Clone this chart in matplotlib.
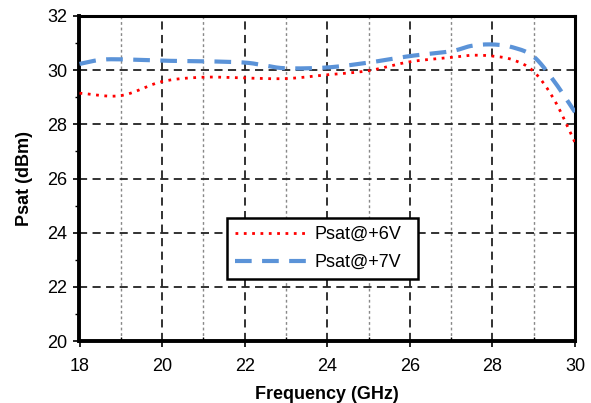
import matplotlib
matplotlib.use("Agg")
import matplotlib.pyplot as plt
import numpy as np

plt.rcParams['font.family'] = ['Liberation Sans', 'DejaVu Sans']

freq_6v = [18, 19, 20, 21, 22, 23, 24, 25, 26, 27, 27.5, 28, 28.5, 29, 29.5, 30]
psat_6v = [29.15, 29.06, 29.58, 29.74, 29.71, 29.69, 29.83, 29.98, 30.31, 30.47, 30.55, 30.52, 30.38, 29.95, 28.9, 27.33]
freq_7v = [18, 18.5, 19, 20, 21, 22, 22.5, 23, 24, 25, 26, 27, 27.5, 28, 28.5, 29, 29.5, 30]
psat_7v = [30.23, 30.38, 30.40, 30.35, 30.33, 30.28, 30.17, 30.07, 30.10, 30.28, 30.52, 30.70, 30.90, 30.95, 30.84, 30.50, 29.58, 28.45]

label_6v = "Psat@+6V"
label_7v = "Psat@+7V"
x_ticks = [18, 20, 22, 24, 26, 28, 30]
y_ticks = [20, 22, 24, 26, 28, 30, 32]

fig = plt.figure(figsize=(5.91, 4.03), dpi=100)
ax = fig.add_axes([79.5/591, (403-341)/403, (575-79.5)/591, (341-16)/403])

def smooth(xs, ys):
    xs = np.asarray(xs, float); ys = np.asarray(ys, float)
    out_x, out_y = [], []
    P = np.column_stack([xs, ys])
    P = np.vstack([P[0] - (P[1]-P[0]), P, P[-1] + (P[-1]-P[-2])])
    for i in range(1, len(P)-2):
        p0, p1, p2, p3 = P[i-1], P[i], P[i+1], P[i+2]
        t = np.linspace(0, 1, 20, endpoint=False)[:, None]
        pts = 0.5*((2*p1) + (-p0+p2)*t + (2*p0-5*p1+4*p2-p3)*t**2 + (-p0+3*p1-3*p2+p3)*t**3)
        out_x.extend(pts[:, 0]); out_y.extend(pts[:, 1])
    out_x.append(xs[-1]); out_y.append(ys[-1])
    return np.array(out_x), np.array(out_y)

# grid
for xv in np.arange(19, 30, 2):
    ax.axvline(xv, color='#888888', lw=1.0, ls=(0, (2, 2)), zorder=1)
for xv in np.arange(20, 30, 2):
    ax.axvline(xv, color='#222222', lw=1.3, ls=(0, (4.5, 3)), zorder=1)
for yv in np.arange(22, 32, 2):
    ax.axhline(yv, color='#222222', lw=1.3, ls=(0, (4.5, 3)), zorder=1)

sx, sy = smooth(freq_6v, psat_6v)
ax.plot(sx, sy, color='#FF0000', lw=2.0, ls=(0, (1, 2)), label=label_6v, zorder=3)
sx, sy = smooth(freq_7v, psat_7v)
ax.plot(sx, sy, color='#5B93D8', lw=3.0, ls=(0, (4, 2.5)), label=label_7v, zorder=3)

ax.set_xlim(18, 30)
ax.set_ylim(20, 32)
ax.set_xticks(x_ticks)
ax.set_yticks(y_ticks)
ax.set_xticks(np.arange(19, 30, 2), minor=True)
ax.set_yticks(np.arange(21, 32, 2), minor=True)
ax.tick_params(axis='both', which='major', direction='out', length=4, width=1.2, labelsize=13, colors='black')
ax.tick_params(axis='x', which='minor', direction='in', length=3, width=1.0)
ax.tick_params(axis='y', which='minor', direction='out', length=3, width=1.0)
ax.tick_params(axis='x', which='major', pad=8)
ax.tick_params(axis='y', which='major', pad=5)

for side in ['left', 'bottom']:
    ax.spines[side].set_linewidth(2.8)
for side in ['top', 'right']:
    ax.spines[side].set_linewidth(2.2)

ax.set_xlabel("Frequency (GHz)", fontsize=13, fontweight='bold', labelpad=8)
ax.set_ylabel("Psat (dBm)", fontsize=13, fontweight='bold', labelpad=10)

leg = ax.legend(loc='lower left', bbox_to_anchor=(0.298, 0.19, 0.385, 0.197), mode='expand',
                fontsize=13, frameon=True, fancybox=False, borderaxespad=0,
                handlelength=3.9, handletextpad=0.5, borderpad=0.45, labelspacing=0.6)
leg.get_frame().set_edgecolor('black')
leg.get_frame().set_linewidth(1.8)
leg.get_frame().set_alpha(1)

fig.savefig("out.png", dpi=100)
